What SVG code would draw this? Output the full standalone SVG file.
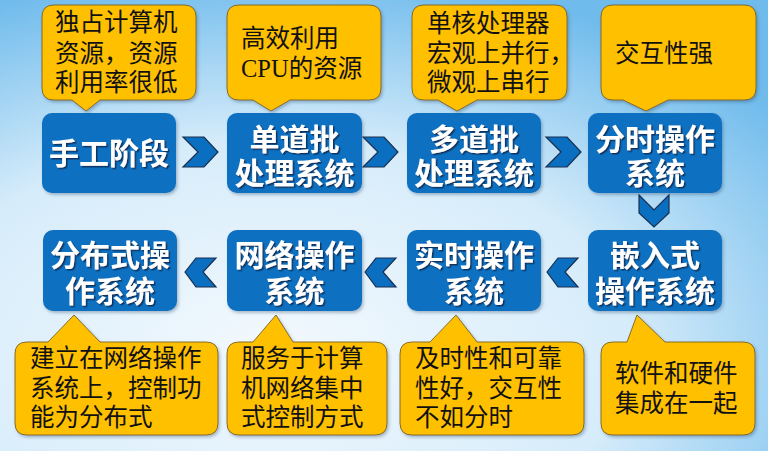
<svg xmlns="http://www.w3.org/2000/svg" width="768" height="451" viewBox="0 0 768 451">
<defs>
  <radialGradient id="bg" cx="35%" cy="78%" r="85%">
    <stop offset="0" stop-color="#f3f9fe"/>
    <stop offset="0.55" stop-color="#d6ecfa"/>
    <stop offset="1" stop-color="#6fbbec"/>
  </radialGradient>
  <filter id="ts" x="-10%" y="-10%" width="130%" height="140%">
    <feDropShadow dx="1.5" dy="1.5" stdDeviation="0.6" flood-color="#0b2f57" flood-opacity="0.9"/>
  </filter>
  <filter id="bs" x="-10%" y="-10%" width="130%" height="130%">
    <feDropShadow dx="1.5" dy="2" stdDeviation="1.5" flood-color="#2a4a6a" flood-opacity="0.35"/>
  </filter>
  <style>
    .node{fill:#0a6fc0;filter:url(#bs);}
    .nt{font-family:"Noto Sans CJK SC","Noto Sans",sans-serif;font-weight:700;font-size:30px;fill:#ffffff;text-anchor:middle;filter:url(#ts);}
    .call{fill:#ffc000;stroke:#7a6320;stroke-width:0.9;filter:url(#bs);}
    .ct{font-family:"Noto Sans CJK SC","Noto Sans",sans-serif;font-size:24.5px;fill:#111111;}
    .serif{font-family:"Liberation Serif",serif;}
    .chev{fill:#0a6fc0;stroke:#1a2f4f;stroke-width:1.2;stroke-linejoin:miter;}
  </style>
</defs>
<rect width="768" height="451" fill="url(#bg)"/>

<g id="connectors">
  <polygon class="chev" points="183,137 204,137 218,152 204,167 183,167 198,152"/>
  <polygon class="chev" points="363,137 384,137 398,152 384,167 363,167 378,152"/>
  <polygon class="chev" points="546,137 567,137 581,152 567,167 546,167 561,152"/>
  <polygon class="chev" points="639,195 654,210 669,195 669,213 654,227 639,213"/>
  <polygon class="chev" points="547,272 558,258 578,258 565,272 578,287 558,287"/>
  <polygon class="chev" points="365,272 376,258 396,258 383,272 396,287 376,287"/>
  <polygon class="chev" points="185,272 196,258 216,258 203,272 216,287 196,287"/>
</g>

<g id="node-manual">
  <rect class="node" x="42" y="113" width="134" height="80" rx="10"/>
  <text class="nt" x="109" y="164">手工阶段</text>
</g>
<g id="node-single-batch">
  <rect class="node" x="227" y="113" width="135" height="80" rx="10"/>
  <text class="nt"><tspan x="294.5" y="150">单道批</tspan><tspan x="294.5" y="184">处理系统</tspan></text>
</g>
<g id="node-multi-batch">
  <rect class="node" x="407" y="113" width="134" height="80" rx="10"/>
  <text class="nt"><tspan x="474" y="150">多道批</tspan><tspan x="474" y="184">处理系统</tspan></text>
</g>
<g id="node-timesharing">
  <rect class="node" x="588" y="113" width="134" height="80" rx="10"/>
  <text class="nt"><tspan x="655" y="150">分时操作</tspan><tspan x="655" y="184">系统</tspan></text>
</g>
<g id="node-embedded">
  <rect class="node" x="588" y="230" width="134" height="81" rx="10"/>
  <text class="nt"><tspan x="655" y="266">嵌入式</tspan><tspan x="655" y="302">操作系统</tspan></text>
</g>
<g id="node-realtime">
  <rect class="node" x="407" y="230" width="134" height="81" rx="10"/>
  <text class="nt"><tspan x="474" y="266">实时操作</tspan><tspan x="474" y="302">系统</tspan></text>
</g>
<g id="node-network">
  <rect class="node" x="227" y="230" width="135" height="81" rx="10"/>
  <text class="nt"><tspan x="294.5" y="266">网络操作</tspan><tspan x="294.5" y="302">系统</tspan></text>
</g>
<g id="node-distributed">
  <rect class="node" x="43" y="230" width="134" height="81" rx="10"/>
  <text class="nt"><tspan x="110" y="266">分布式操</tspan><tspan x="110" y="302">作系统</tspan></text>
</g>

<g id="callout-manual">
  <path class="call" d="M54,5 H184 Q196,5 196,17 V88 Q196,100 184,100 H100 L86,111 L72,100 H54 Q42,100 42,88 V17 Q42,5 54,5 Z"/>
  <text class="ct"><tspan x="55" y="31">独占计算机</tspan><tspan x="55" y="62">资源，资源</tspan><tspan x="55" y="91">利用率很低</tspan></text>
</g>
<g id="callout-single-batch">
  <path class="call" d="M239,5 H369 Q381,5 381,17 V88 Q381,100 369,100 H290 L271,111 L253,100 H239 Q227,100 227,88 V17 Q227,5 239,5 Z"/>
  <text class="ct"><tspan x="241" y="47">高效利用</tspan><tspan x="241" y="77" class="serif">CPU</tspan><tspan>的资源</tspan></text>
</g>
<g id="callout-multi-batch">
  <path class="call" d="M424,5 H555 Q567,5 567,17 V88 Q567,100 555,100 H477 L457,111 L438,100 H424 Q412,100 412,88 V17 Q412,5 424,5 Z"/>
  <text class="ct"><tspan x="427" y="32">单核处理器</tspan><tspan x="427" y="62">宏观上并行，</tspan><tspan x="427" y="91">微观上串行</tspan></text>
</g>
<g id="callout-timesharing">
  <path class="call" d="M613,5 H744 Q756,5 756,17 V88 Q756,100 744,100 H668 L646,111 L623,100 H613 Q601,100 601,88 V17 Q601,5 613,5 Z"/>
  <text class="ct" x="615" y="62">交互性强</text>
</g>

<g id="callout-distributed">
  <path class="call" d="M27,342 H48 L74,315 L100,342 H206 Q218,342 218,354 V423 Q218,435 206,435 H27 Q15,435 15,423 V354 Q15,342 27,342 Z"/>
  <text class="ct"><tspan x="30" y="367">建立在网络操作</tspan><tspan x="30" y="397">系统上，控制功</tspan><tspan x="30" y="426">能为分布式</tspan></text>
</g>
<g id="callout-network">
  <path class="call" d="M239,342 H253 L276,315 L293,342 H375 Q387,342 387,354 V423 Q387,435 375,435 H239 Q227,435 227,423 V354 Q227,342 239,342 Z"/>
  <text class="ct"><tspan x="241" y="367">服务于计算</tspan><tspan x="241" y="397">机网络集中</tspan><tspan x="241" y="426">式控制方式</tspan></text>
</g>
<g id="callout-realtime">
  <path class="call" d="M412,342 H430 L456,315 L477,342 H572 Q584,342 584,354 V423 Q584,435 572,435 H412 Q400,435 400,423 V354 Q400,342 412,342 Z"/>
  <text class="ct"><tspan x="415" y="367">及时性和可靠</tspan><tspan x="415" y="397">性好，交互性</tspan><tspan x="415" y="426">不如分时</tspan></text>
</g>
<g id="callout-embedded">
  <path class="call" d="M613,342 H627 L637,315 L665,342 H743 Q755,342 755,354 V423 Q755,435 743,435 H613 Q601,435 601,423 V354 Q601,342 613,342 Z"/>
  <text class="ct"><tspan x="615" y="382">软件和硬件</tspan><tspan x="615" y="412">集成在一起</tspan></text>
</g>
</svg>
